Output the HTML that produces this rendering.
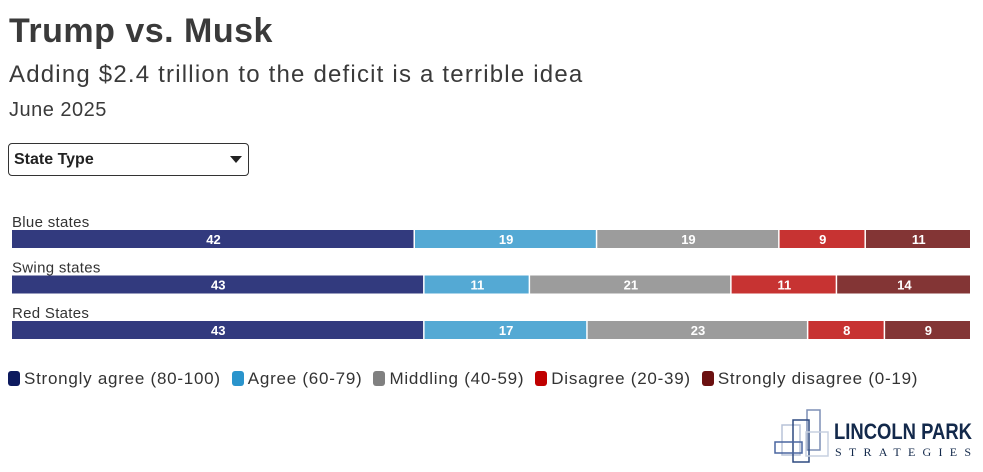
<!DOCTYPE html>
<html><head><meta charset="utf-8"><style>
body{margin:0;width:983px;height:472px;background:#fff;font-family:"Liberation Sans",sans-serif;position:relative;overflow:hidden;color:#333}
.t{position:absolute;left:9px;white-space:nowrap}
</style></head><body>
<div class="t" style="top:12px;font-size:34px;font-weight:bold;color:#3a3a3a;letter-spacing:0.5px">Trump vs. Musk</div>
<div class="t" style="top:61px;font-size:24px;color:#3a3a3a;letter-spacing:1.2px">Adding $2.4 trillion to the deficit is a terrible idea</div>
<div class="t" style="top:99px;font-size:20px;color:#3a3a3a;letter-spacing:0.5px">June 2025</div>
<div style="position:absolute;left:8px;top:143px;width:241px;height:33px;border:1.5px solid #333;border-radius:4px;box-sizing:border-box">
<span style="position:absolute;left:5px;top:7px;font-size:16px;font-weight:bold;color:#222">State Type</span>
<span style="position:absolute;right:6px;top:12px;width:0;height:0;border-left:6px solid transparent;border-right:6px solid transparent;border-top:7px solid #222"></span>
</div>
<svg id="chart" width="983" height="472" style="position:absolute;left:0;top:0"></svg>
<div style="position:absolute;left:8px;top:369px;font-size:17px;color:#333;white-space:nowrap;display:flex;gap:11px;letter-spacing:0.75px">
<span><i style="display:inline-block;width:12px;height:15px;background:#0d1a5e;border-radius:3px;vertical-align:-2px;margin-right:4px"></i>Strongly agree (80-100)</span>
<span><i style="display:inline-block;width:12px;height:15px;background:#2a94cc;border-radius:3px;vertical-align:-2px;margin-right:4px"></i>Agree (60-79)</span>
<span><i style="display:inline-block;width:12px;height:15px;background:#808080;border-radius:3px;vertical-align:-2px;margin-right:4px"></i>Middling (40-59)</span>
<span><i style="display:inline-block;width:12px;height:15px;background:#c00000;border-radius:3px;vertical-align:-2px;margin-right:4px"></i>Disagree (20-39)</span>
<span><i style="display:inline-block;width:12px;height:15px;background:#6b1010;border-radius:3px;vertical-align:-2px;margin-right:4px"></i>Strongly disagree (0-19)</span>
</div>
<svg width="210" height="60" style="position:absolute;left:770px;top:405px">
<g fill="none" stroke-width="1.5">
<rect x="37" y="5" width="13" height="40" stroke="#7d8fb5"/>
<rect x="12" y="20" width="18" height="30" stroke="#b8c3d8"/>
<rect x="23" y="15" width="16" height="42" stroke="#2e4a80"/>
<rect x="36" y="27" width="22" height="24" stroke="#c7d0e0"/>
<rect x="5" y="37" width="27" height="11" stroke="#4a66a0"/>
</g>
<text x="64" y="34" font-size="22" font-weight="bold" fill="#13294b" font-family="Liberation Sans" textLength="138" lengthAdjust="spacingAndGlyphs">LINCOLN PARK</text>
<text x="65" y="51" font-size="12" fill="#13294b" font-family="Liberation Serif" textLength="136" lengthAdjust="spacing">STRATEGIES</text>
</svg>
<script>
const categories=["Blue states","Swing states","Red States"];
const stronglyAgree=[42,43,43];
const agree=[19,11,17];
const middling=[19,21,23];
const disagree=[9,11,8];
const stronglyDisagree=[11,14,9];
const series=[stronglyAgree,agree,middling,disagree,stronglyDisagree];
const seriesNames=["strongly-agree","agree","middling","disagree","strongly-disagree"];
const colors=["#323a7e","#54a9d4","#9c9c9c","#c73332","#833535"];
const svg=document.getElementById('chart');const NS="http://www.w3.org/2000/svg";
const x0=12,x1=971.5,rowTop=230,rowStep=45.5,barH=18;
function xs(v){return x0+v/100*(x1-x0);}
categories.forEach((c,i)=>{
 const y=rowTop+i*rowStep;
 const lab=document.createElementNS(NS,'text');
 
 
 lab.setAttribute('x',12);lab.setAttribute('y',y-3);lab.setAttribute('font-size','15');lab.setAttribute('fill','#333');lab.setAttribute('font-family','Liberation Sans');lab.setAttribute('letter-spacing','0.3');
 lab.textContent=c;svg.appendChild(lab);
 let acc=0;
 series.forEach((s,j)=>{
  const v=s[i];const r=document.createElementNS(NS,'rect');
  
  
  r.setAttribute('x',xs(acc));r.setAttribute('y',y);r.setAttribute('width',xs(acc+v)-xs(acc)-1.5);r.setAttribute('height',barH);r.setAttribute('fill',colors[j]);
  svg.appendChild(r);
  const t=document.createElementNS(NS,'text');
  
  
  t.setAttribute('x',(xs(acc)+xs(acc+v))/2);t.setAttribute('y',y+14);t.setAttribute('text-anchor','middle');t.setAttribute('font-size','13');t.setAttribute('font-weight','bold');t.setAttribute('fill','#fff');t.setAttribute('font-family','Liberation Sans');
  t.textContent=v;svg.appendChild(t);
  acc+=v;
 });
});
</script>
</body></html>
